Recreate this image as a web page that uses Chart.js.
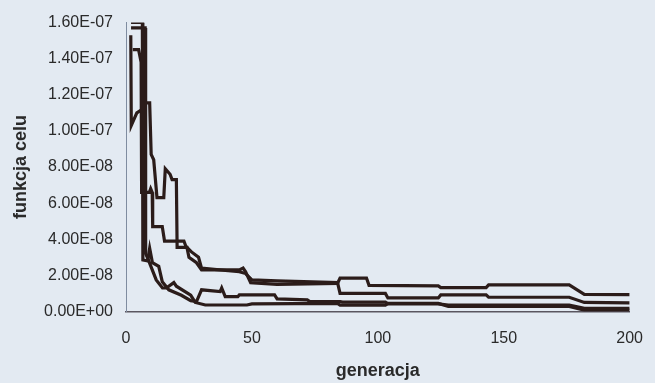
<!DOCTYPE html>
<html>
<head>
<meta charset="utf-8">
<script src="https://cdn.jsdelivr.net/npm/chart.js@4.4.1/dist/chart.umd.min.js"></script>
<style>
html,body{margin:0;padding:0;background:#e3eaf2;}
#wrap{width:655px;height:383px;position:relative;}
canvas{display:block;}
</style>
</head>
<body>
<div id="wrap"><canvas id="c" width="655" height="383"></canvas></div>
<script>
// generations (x) and objective values (y) of four runs
const s1x = [2, 6.5, 6.7, 8.6, 9.4, 10.5, 13, 14.4, 17, 22, 25.7, 28, 30, 37.4, 38, 39.4, 44.4, 45, 59, 60, 72, 73, 85, 86, 103, 104, 124, 128, 176, 182, 200];
const s1y = [1.6e-7, 1.6e-7, 2.85e-8, 2.8e-8, 3.5e-8, 2.7e-8, 2.5e-8, 1.65e-8, 1.2e-8, 9e-9, 6e-9, 5.5e-9, 1.2e-8, 1.1e-8, 1.3e-8, 8.2e-9, 8.2e-9, 9.2e-9, 9.2e-9, 7e-9, 6.4e-9, 5.5e-9, 5.5e-9, 5.2e-9, 5.2e-9, 4.2e-9, 4.2e-9, 3.6e-9, 3.6e-9, 1.8e-9, 1.8e-9];

const s2x = [2, 7.6, 7.8, 8.6, 12, 14.5, 16, 19, 20, 25.7, 27.5, 31.5, 48, 50, 84, 85, 103, 104, 124, 128, 176, 182, 200];
const s2y = [1.57e-7, 1.57e-7, 3.2e-8, 2.95e-8, 1.75e-8, 1.3e-8, 1.3e-8, 1.6e-8, 1.4e-8, 9e-9, 5e-9, 3.6e-9, 3.6e-9, 4.2e-9, 4.5e-9, 3.5e-9, 3.5e-9, 4.5e-9, 4.5e-9, 2.8e-9, 2.8e-9, 8e-10, 8e-10];

const s3x = [1.9, 2.1, 4.3, 6.6, 7.4, 9.4, 10, 11, 12.3, 15, 15.6, 17.5, 18.3, 20, 20.3, 24.2, 25, 28, 30, 45, 46.5, 47.5, 49.5, 60, 84, 85, 95.5, 96.5, 124, 125, 143, 144, 176, 182, 200];
const s3y = [1.53e-7, 1.03e-7, 1.1e-7, 1.12e-7, 1.155e-7, 1.155e-7, 8.7e-8, 8.4e-8, 6.3e-8, 6.3e-8, 7.9e-8, 7.6e-8, 7.3e-8, 7.3e-8, 3.55e-8, 3.55e-8, 3.0e-8, 2.7e-8, 2.3e-8, 2.3e-8, 2.4e-8, 2.2e-8, 1.6e-8, 1.5e-8, 1.55e-8, 1.85e-8, 1.85e-8, 1.45e-8, 1.42e-8, 1.32e-8, 1.32e-8, 1.47e-8, 1.47e-8, 9.5e-9, 9.3e-9];

const s4x = [2.7, 5, 6, 6.2, 9.3, 9.8, 10.4, 10.6, 14.4, 14.8, 15.3, 23, 23.8, 26, 28.8, 30, 45, 47.5, 50, 60, 84, 85, 103, 104, 124, 125, 143, 144, 176, 182, 200];
const s4y = [1.45e-7, 1.45e-7, 1.38e-7, 6.6e-8, 6.6e-8, 6.8e-8, 6.6e-8, 4.7e-8, 4.7e-8, 4.35e-8, 3.9e-8, 3.9e-8, 3.6e-8, 3.3e-8, 3.0e-8, 2.4e-8, 2.2e-8, 2.1e-8, 1.75e-8, 1.7e-8, 1.6e-8, 1.0e-8, 1.0e-8, 7.5e-9, 7.5e-9, 9.2e-9, 9.2e-9, 7.9e-9, 7.9e-9, 5e-9, 4.8e-9];

const yTickLabels = ['0.00E+00','2.00E-08','4.00E-08','6.00E-08','8.00E-08','1.00E-07','1.20E-07','1.40E-07','1.60E-07'];
const xTickLabels = ['0','50','100','150','200'];
const xTitle = 'generacja';
const yTitle = 'funkcja celu';

function pts(xs, ys){ return xs.map((x,i)=>({x:x, y:ys[i]})); }

const FONT = '"Liberation Sans", Arial, Helvetica, sans-serif';
Chart.defaults.font.family = FONT;
Chart.defaults.color = '#2a2a2a';

const lineStyle = {borderColor:'#2b1c1a', borderWidth:3.2, pointRadius:0, tension:0, fill:false, borderJoinStyle:'miter'};

new Chart(document.getElementById('c'), {
  type: 'line',
  data: {
    datasets: [
      Object.assign({label:'1', data: pts(s1x, s1y)}, lineStyle),
      Object.assign({label:'2', data: pts(s2x, s2y)}, lineStyle),
      Object.assign({label:'3', data: pts(s3x, s3y)}, lineStyle),
      Object.assign({label:'4', data: pts(s4x, s4y)}, lineStyle)
    ]
  },
  options: {
    responsive: false,
    animation: false,
    layout: {padding: {top: 22.5, right: 16, left: 0, bottom: 0}},
    plugins: {legend: {display:false}, tooltip: {enabled:false}},
    scales: {
      x: {
        type: 'linear', min: 0, max: 200,
        grid: {display:false, drawTicks:true, tickLength:5, color:'#555'},
        border: {display:true, color:'#5a5660', width:1.5},
        ticks: {stepSize:50, padding:12, font:{size:16}, color:'#2a2a2a',
          callback: (v)=> xTickLabels[Math.round(v/50)]},
        title: {display:true, text:xTitle, font:{size:18, weight:'bold'}, color:'#2a2a2a', padding:{top:0,bottom:1}},
        afterFit: (s)=>{ s.height = 71.5; }
      },
      y: {
        min: 0, max: 1.6e-7,
        grid: {display:false, drawTicks:true, tickLength:5, color:'#7f8ca0'},
        border: {display:true, color:'#7f8ca0', width:1},
        ticks: {stepSize:2e-8, padding:8, font:{size:16}, color:'#2a2a2a',
          callback: (v)=> yTickLabels[Math.round(v/2e-8)]},
        title: {display:true, text:yTitle, font:{size:18, weight:'bold'}, color:'#2a2a2a', padding:{top:10,bottom:0}},
        afterFit: (s)=>{ s.width = 126; }
      }
    }
  }
});
</script>
</body>
</html>
